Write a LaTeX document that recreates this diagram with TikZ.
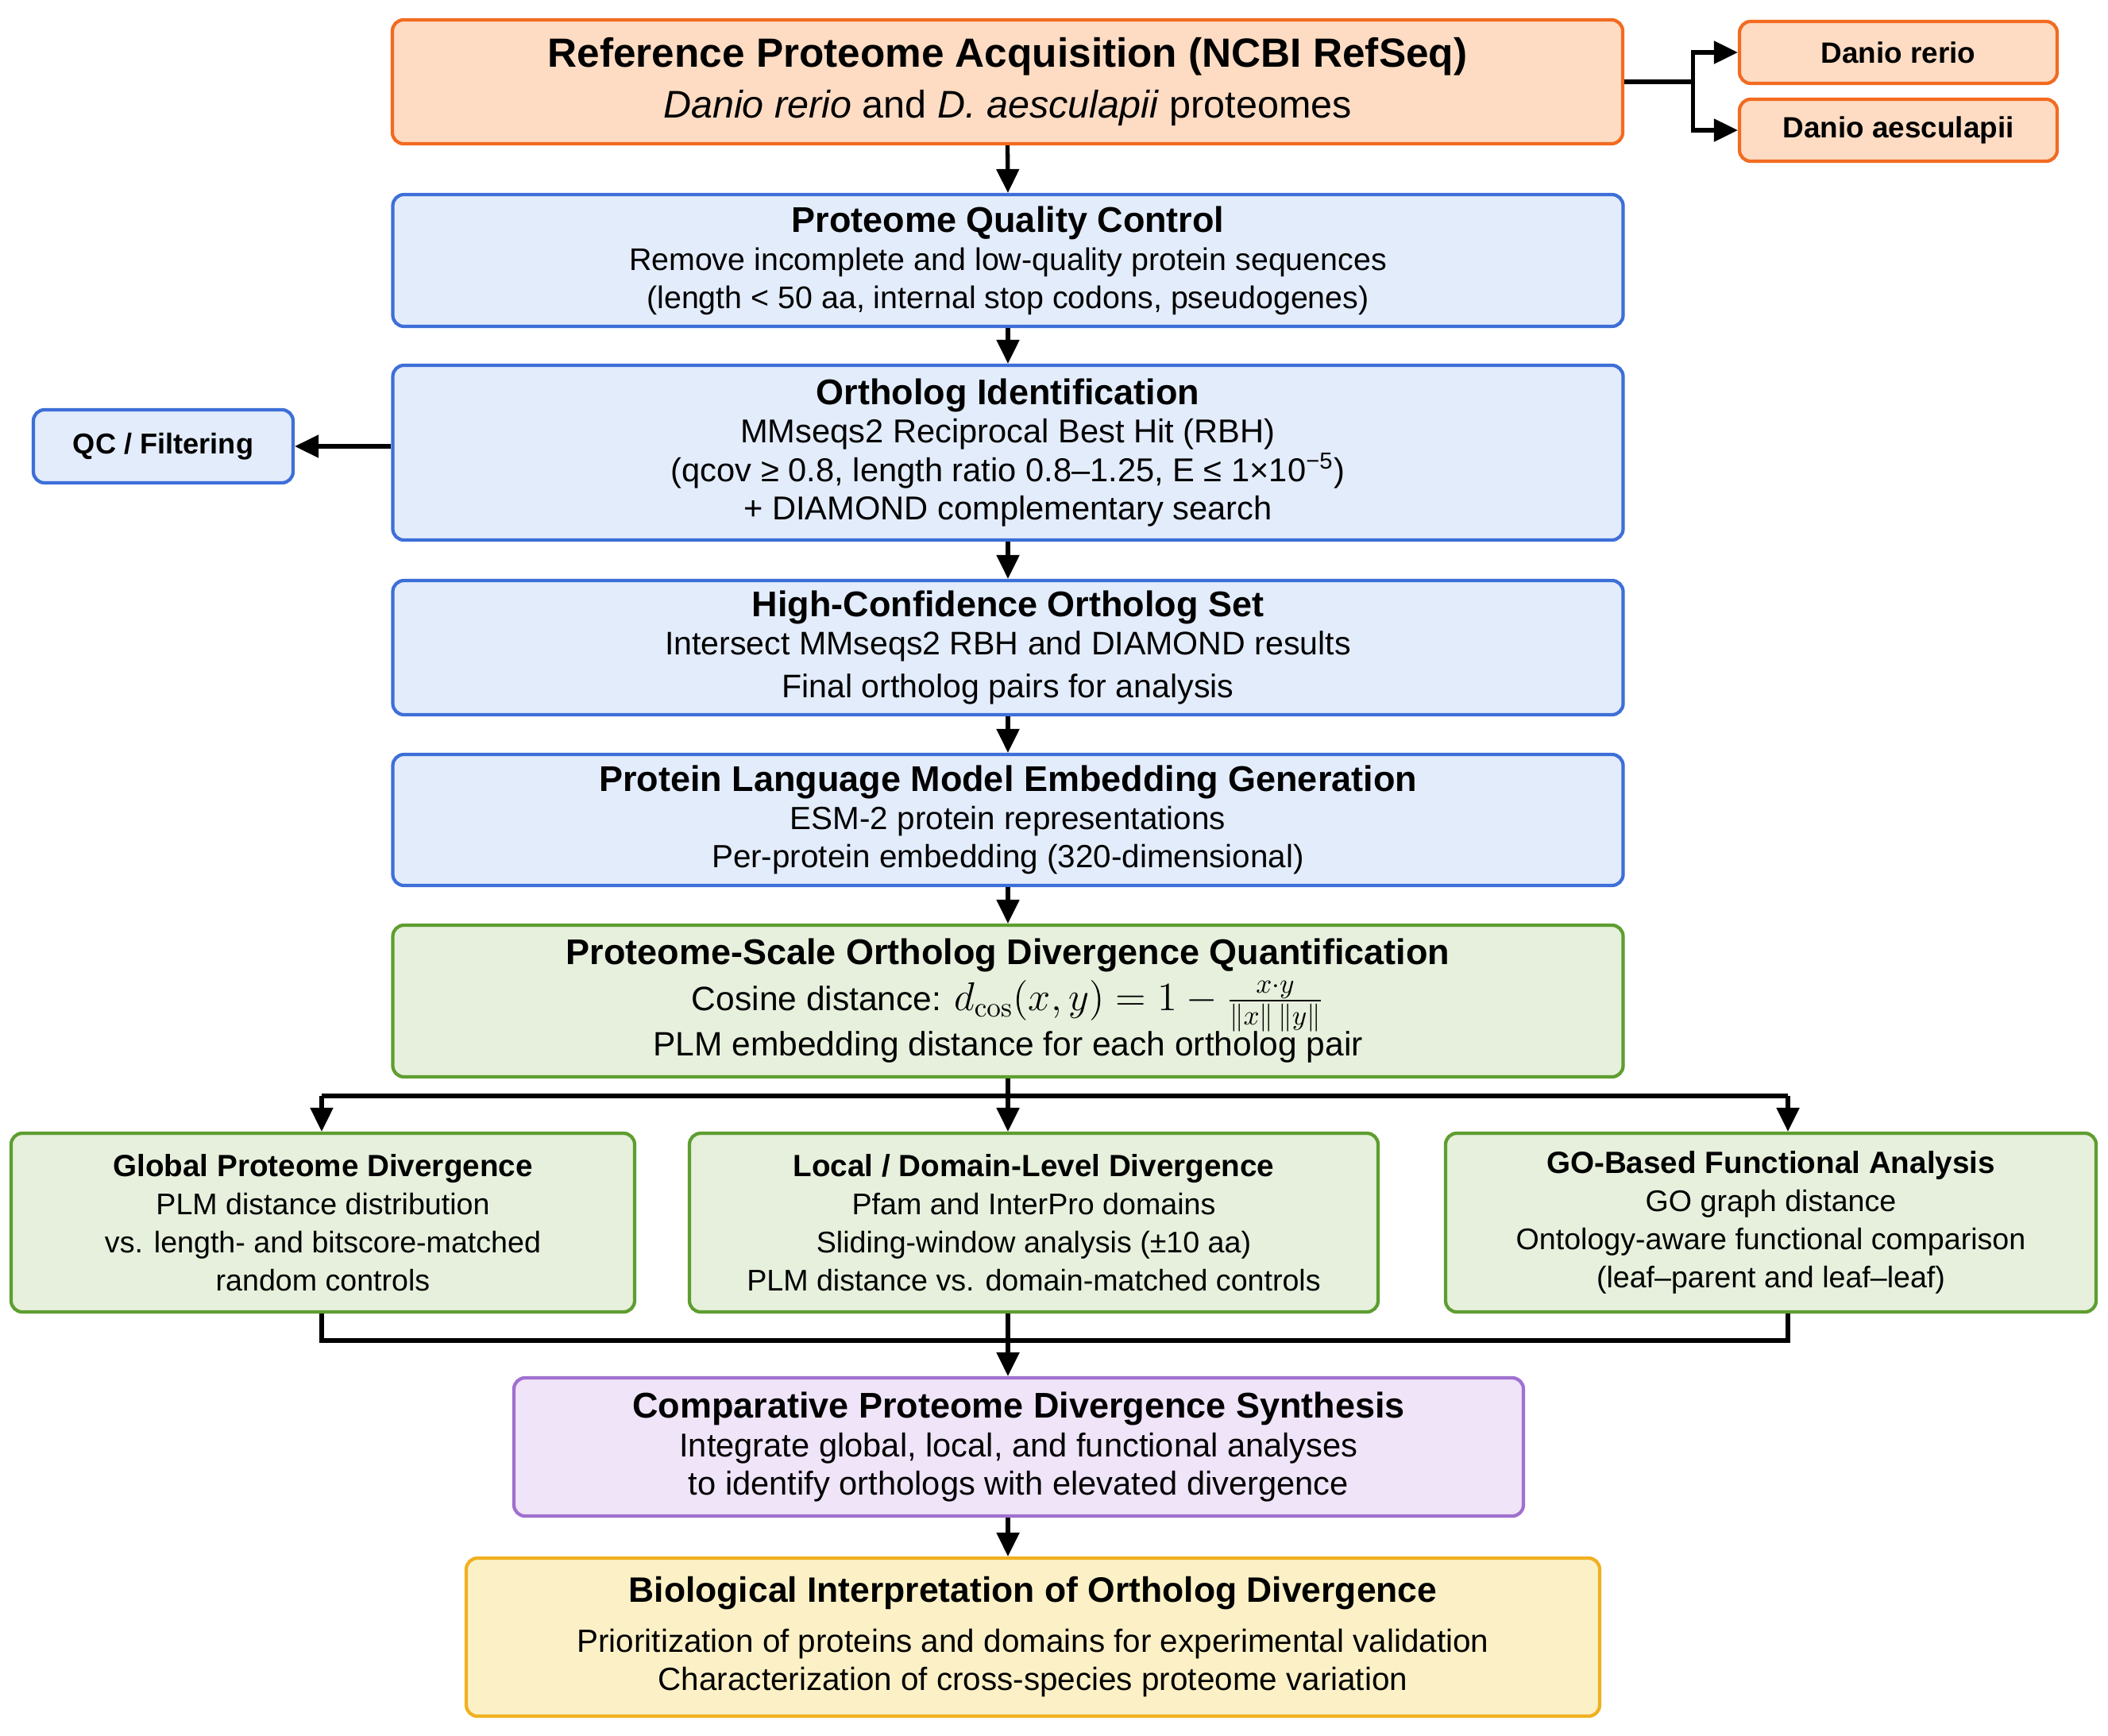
\documentclass[tikz,border=0pt]{standalone}
\usepackage{amsmath,amssymb}
\usepackage[no-math]{fontspec}
\setmainfont{Liberation Sans}
\usepackage{tikz}
\usetikzlibrary{arrows.meta,calc,positioning}
\definecolor{PipeOrange}{HTML}{F26B21}
\definecolor{PipeOrangeFill}{HTML}{FDDCC3}
\definecolor{PipeBlue}{HTML}{3D6FD8}
\definecolor{PipeBlueFill}{HTML}{E3ECFB}
\definecolor{PipeGreen}{HTML}{5E9E30}
\definecolor{PipeGreenFill}{HTML}{E6F0DC}
\definecolor{PipePurple}{HTML}{A070D0}
\definecolor{PipePurpleFill}{HTML}{EFE4F8}
\definecolor{PipeYellow}{HTML}{F0B020}
\definecolor{PipeYellowFill}{HTML}{FCF1C6}
\newcommand{\stagetitle}[1]{{\fontsize{12.8}{15}\selectfont\bfseries #1}}
\newcommand{\subtitle}[1]{{\fontsize{11}{13}\selectfont\bfseries #1}}
\tikzset{
  stage/.style={draw,rounded corners=4pt,line width=1.2pt,align=center,inner sep=2pt,
    font=\fontsize{11.2}{13.6}\selectfont},
  mainstage/.style={stage,minimum width=15.49cm},
  orangebox/.style={stage,draw=PipeOrange,fill=PipeOrangeFill},
  bluebox/.style={stage,draw=PipeBlue,fill=PipeBlueFill},
  greenbox/.style={stage,draw=PipeGreen,fill=PipeGreenFill},
  purplebox/.style={stage,draw=PipePurple,fill=PipePurpleFill},
  yellowbox/.style={stage,draw=PipeYellow,fill=PipeYellowFill},
  sidebox/.style={font=\fontsize{10.5}{12}\selectfont\bfseries},
  analysis/.style={greenbox,minimum height=2.25cm,font=\fontsize{10.7}{13.6}\selectfont},
  link/.style={line width=1.5pt},
  flow/.style={link,-{Triangle[length=3mm,width=2.8mm]}}
}

\begin{document}
\begin{tikzpicture}
  \useasboundingbox (0,0) rectangle (26.54,-21.85);

  \node[orangebox,mainstage,minimum height=1.56cm,font=\fontsize{13.8}{18}\selectfont] (ref) at (12.685,-1.03)
    {{\fontsize{14.6}{17}\selectfont\bfseries Reference Proteome Acquisition (NCBI RefSeq)}\\
     \textit{Danio rerio} and \textit{D. aesculapii} proteomes};
  \node[orangebox,sidebox,minimum width=4cm,minimum height=0.78cm] (rerio) at (23.90,-0.66) {Danio rerio};
  \node[orangebox,sidebox,minimum width=4cm,minimum height=0.78cm] (aesc) at (23.90,-1.64) {Danio aesculapii};

  \node[bluebox,mainstage,minimum height=1.66cm] (qc) at (12.69,-3.28)
    {\stagetitle{Proteome Quality Control}\\
     Remove incomplete and low-quality protein sequences\\
     (length < 50 aa, internal stop codons, pseudogenes)};
  \node[bluebox,mainstage,minimum height=2.2cm,font=\fontsize{11.85}{13.8}\selectfont] (orth) at (12.69,-5.70)
    {\stagetitle{Ortholog Identification}\\
     MMseqs2 Reciprocal Best Hit (RBH)\\
     (qcov ≥ 0.8, length ratio 0.8–1.25, E ≤ 1×10\textsuperscript{−5})\\
     + DIAMOND complementary search};
  \node[bluebox,font=\fontsize{10.3}{12}\selectfont\bfseries,minimum width=3.27cm,minimum height=0.92cm] (filt) at (2.055,-5.62) {QC / Filtering};
  \node[bluebox,mainstage,minimum height=1.69cm,font=\fontsize{11.7}{13.6}\selectfont] (hc) at (12.69,-8.155)
    {\stagetitle{High-Confidence Ortholog Set}\\
     Intersect MMseqs2 RBH and DIAMOND results\\[2pt]
     Final ortholog pairs for analysis};
  \node[bluebox,mainstage,minimum height=1.65cm,font=\fontsize{11.5}{13.6}\selectfont] (plm) at (12.69,-10.325)
    {\stagetitle{Protein Language Model Embedding Generation}\\
     ESM-2 protein representations\\
     Per-protein embedding (320-dimensional)};
  \node[greenbox,mainstage,minimum height=1.91cm,font=\fontsize{12.1}{14}\selectfont] (quant) at (12.69,-12.605)
    {\stagetitle{Proteome-Scale Ortholog Divergence Quantification}\\[2.5pt]
     Cosine distance: {\fontsize{13.8}{16}\selectfont$d_{\cos}(x,y) = 1 - \frac{x\cdot y}{\|x\|\,\|y\|}$}\\[-1pt]
     PLM embedding distance for each ortholog pair};

  \node[analysis,minimum width=7.85cm] (global) at (4.065,-15.395)
    {\subtitle{Global Proteome Divergence}\\
     PLM distance distribution\\
     vs. length- and bitscore-matched\\
     random controls};
  \node[analysis,minimum width=8.67cm] (local) at (13.015,-15.395)
    {\subtitle{Local / Domain-Level Divergence}\\
     Pfam and InterPro domains\\
     Sliding-window analysis (±10 aa)\\
     PLM distance vs. domain-matched controls};
  \node[analysis,minimum width=8.19cm] (go) at (22.295,-15.395)
    {\subtitle{GO-Based Functional Analysis}\\
     GO graph distance\\
     Ontology-aware functional comparison\\
     (leaf–parent and leaf–leaf)};

  \node[purplebox,minimum width=12.71cm,minimum height=1.74cm,font=\fontsize{11.85}{13.8}\selectfont] (synth) at (12.825,-18.22)
    {\stagetitle{Comparative Proteome Divergence Synthesis}\\
     Integrate global, local, and functional analyses\\
     to identify orthologs with elevated divergence};
  \node[yellowbox,minimum width=14.27cm,minimum height=1.99cm,font=\fontsize{11.5}{13.8}\selectfont] (bio) at (13.005,-20.615)
    {{\fontsize{12.65}{15}\selectfont\bfseries Biological Interpretation of Ortholog Divergence}\\[4pt]
     Prioritization of proteins and domains for experimental validation\\
     Characterization of cross-species proteome variation};

  \draw[link] (ref.east) -- ++(0.86,0) coordinate (split);
  \draw[flow] (split) |- (rerio.west);
  \draw[flow] (split) |- (aesc.west);
  \draw[flow] (ref.south) -- (qc.north);
  \draw[flow] (qc.south) -- (orth.north);
  \draw[flow] (orth.west |- filt.east) -- (filt.east);
  \draw[flow] (orth.south) -- (hc.north);
  \draw[flow] (hc.south) -- (plm.north);
  \draw[flow] (plm.south) -- (quant.north);

  \coordinate (forkL) at (4.05,-13.80);
  \coordinate (forkR) at (22.51,-13.80);
  \draw[link] (forkL) -- (forkR);
  \draw[flow] (forkL) -- (forkL |- global.north);
  \draw[flow] (forkR) -- (forkR |- go.north);
  \draw[flow] (quant.south) -- (quant.south |- local.north);

  \coordinate (joinL) at (4.05,-16.88);
  \coordinate (joinR) at (22.51,-16.88);
  \draw[link] (joinL |- global.south) -- (joinL) -- (joinR) -- (joinR |- go.south);
  \draw[flow] (local.south -| quant.south) -- (synth.north -| quant.south);
  \draw[flow] (synth.south -| quant.south) -- (bio.north -| quant.south);
\end{tikzpicture}
\end{document}
